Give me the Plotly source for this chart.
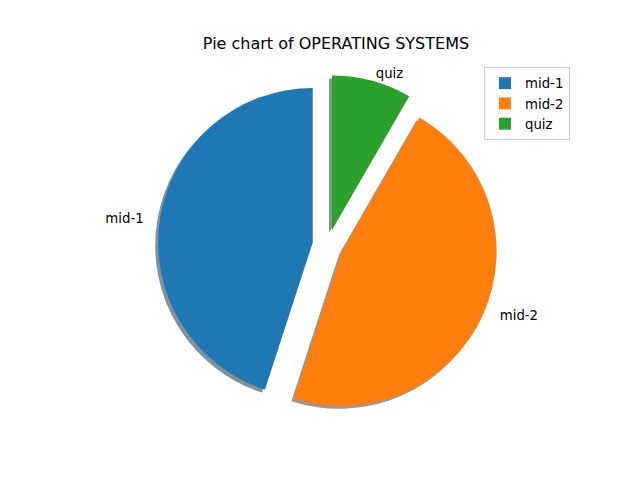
import plotly.graph_objects as go

labels = ["mid-1", "mid-2", "quiz"]
values = [27, 28, 5]
pulls = [0.1, 0.1, 0.1]
colors = ["#1f77b4", "#ff7f0e", "#2ca02c"]
shadow_colors = ["rgba(9,36,54,0.5)", "rgba(76,38,4,0.5)", "rgba(13,48,13,0.5)"]

W, H = 640, 480
cx, cy = 320, 237      # pie centre in page pixels
half = 170             # half domain size (radius * (1 + max pull))
sh = 3                 # shadow offset in pixels
NB = "\u00a0"

# plotly's counterclockwise pies end the first slice at the rotation angle;
# shift so the first slice starts at 12 o'clock like matplotlib startangle=90
rot = -360.0 * values[0] / sum(values)

def dom(dx=0, dy=0):
    return dict(
        x=[(cx - half + dx) / W, (cx + half + dx) / W],
        y=[(H - cy - half - dy) / H, (H - cy + half - dy) / H],
    )

fig = go.Figure()
fig.add_trace(go.Pie(
    labels=labels, values=values, pull=pulls, sort=False,
    direction="counterclockwise", rotation=rot,
    marker=dict(colors=shadow_colors, line=dict(width=0)),
    textinfo="none", hoverinfo="skip", showlegend=False,
    domain=dom(-sh, sh),
))
fig.add_trace(go.Pie(
    labels=labels, values=values, pull=pulls, sort=False,
    direction="counterclockwise", rotation=rot,
    marker=dict(colors=colors, line=dict(width=0)),
    texttemplate=["%{label}" + NB * 3, NB * 3 + "%{label}", "%{label}"],
    textposition="outside",
    textfont=dict(family="DejaVu Sans", size=13.3, color="black"),
    domain=dom(),
))

fig.update_layout(
    width=W, height=H,
    margin=dict(l=0, r=0, t=0, b=0),
    paper_bgcolor="white", plot_bgcolor="white",
    font=dict(family="DejaVu Sans", size=13.3, color="black"),
    title=dict(text="Pie chart of OPERATING SYSTEMS", x=0.5125, xanchor="center",
               y=(H - 35) / H, yanchor="middle",
               font=dict(family="DejaVu Sans", size=16, color="black")),
    legend=dict(x=562 / W, xanchor="right", y=(H - 59) / H, yanchor="top",
                bordercolor="#cccccc", borderwidth=1, bgcolor="white",
                font=dict(family="DejaVu Sans", size=13.3)),
)

fig.write_html("out.html")
